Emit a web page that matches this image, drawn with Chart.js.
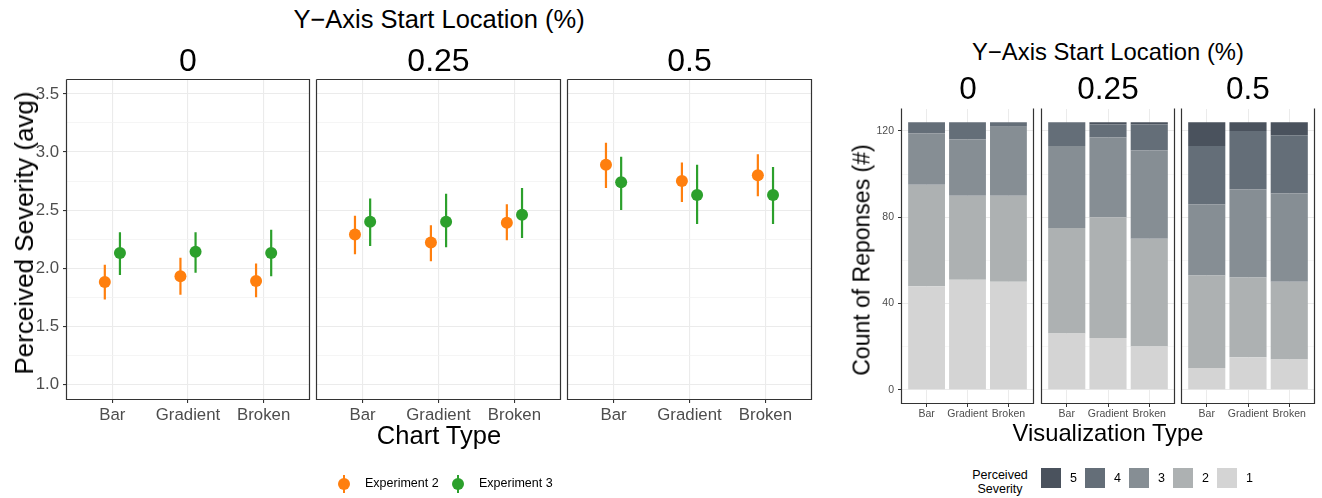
<!DOCTYPE html>
<html>
<head>
<meta charset="utf-8">
<script src="https://cdn.jsdelivr.net/npm/chart.js@4.4.1/dist/chart.umd.min.js"></script>
<style>
  body { margin: 0; background: #fff; width: 1322px; height: 498px; position: relative; overflow: hidden;
         font-family: "Liberation Sans", Arial, sans-serif; }
  canvas { position: absolute; }
  .t { position: absolute; white-space: nowrap; line-height: 1; color: #000; }
  .lg { position: absolute; font-size: 12.5px; line-height: 1; color: #000; white-space: nowrap; }
</style>
</head>
<body>
<script>
const chartTypes = ['Bar', 'Gradient', 'Broken'];
const startLocations = ['0', '0.25', '0.5'];

// perceived severity, one row per start location, one value per chart type
const exp2Mean = [[1.88, 1.93, 1.89], [2.29, 2.22, 2.39], [2.89, 2.75, 2.80]];
const exp2Low  = [[1.73, 1.77, 1.75], [2.12, 2.06, 2.24], [2.69, 2.57, 2.62]];
const exp2High = [[2.03, 2.09, 2.04], [2.45, 2.37, 2.55], [3.08, 2.91, 2.98]];
const exp3Mean = [[2.13, 2.14, 2.13], [2.40, 2.40, 2.46], [2.74, 2.63, 2.63]];
const exp3Low  = [[1.94, 1.96, 1.93], [2.19, 2.18, 2.26], [2.50, 2.38, 2.38]];
const exp3High = [[2.31, 2.31, 2.33], [2.60, 2.64, 2.69], [2.96, 2.89, 2.87]];

// response counts per severity level
const severityLevels = ['1', '2', '3', '4', '5'];
const sev1 = [[48, 51, 50], [26, 24, 20], [10, 15, 14]];
const sev2 = [[47, 39, 40], [49, 56, 50], [43, 37, 36]];
const sev3 = [[24, 26, 32], [38, 37, 41], [33, 41, 41]];
const sev4 = [[5, 8, 2], [11, 6, 12], [27, 27, 27]];
const sev5 = [[0, 0, 0], [0, 1, 1], [11, 4, 6]];

const yMajorLeft = [1.0, 1.5, 2.0, 2.5, 3.0, 3.5];
const yMinorLeft = [1.25, 1.75, 2.25, 2.75, 3.25];
const yMajorRight = [0, 40, 80, 120];
const yMinorRight = [20, 60, 100];

const orange = '#ff7f0e', green = '#2ca02c';
const sevColors = ['#d4d4d4', '#adb1b2', '#868e94', '#646e78', '#4a525d'];
const tickGrey = '#4d4d4d';

Chart.defaults.font.family = '"Liberation Sans", Arial, sans-serif';
Chart.defaults.animation = false;
Chart.defaults.events = [];

const panelBorder = {
  id: 'panelBorder',
  afterDraw(chart, args, opts) {
    const { ctx, chartArea: a } = chart;
    const l = Math.round(a.left) - 0.5, r = Math.round(a.right) + 0.5;
    const t = Math.round(a.top) - 0.5, b = Math.round(a.bottom) + 0.5;
    ctx.save();
    ctx.strokeStyle = '#333333';
    ctx.lineWidth = 1.2;
    ctx.beginPath();
    ctx.moveTo(l, t); ctx.lineTo(l, b); ctx.lineTo(r, b); ctx.lineTo(r, t);
    if (opts.top) ctx.lineTo(l, t);
    ctx.stroke();
    ctx.restore();
  }
};

function addText(txt, x, y, size, rot) {
  const d = document.createElement('div');
  d.className = 't';
  d.textContent = txt;
  d.style.left = x + 'px';
  d.style.top = y + 'px';
  d.style.fontSize = size + 'px';
  d.style.transform = 'translate(-50%, -50%)' + (rot ? ' rotate(' + rot + 'deg)' : '');
  document.body.appendChild(d);
}

function addCanvas(left, top, w, h) {
  const cv = document.createElement('canvas');
  cv.width = w; cv.height = h;
  cv.style.left = left + 'px'; cv.style.top = top + 'px';
  document.body.appendChild(cv);
  return cv;
}

function isMajor(ctx, majors) {
  return ctx.tick && majors.includes(ctx.tick.value);
}

// fixed axis size, no extra label padding
function fixSize(s, key, v) {
  s[key] = v;
  s.paddingTop = 0; s.paddingBottom = 0; s.paddingLeft = 0; s.paddingRight = 0;
}

// ---- left: mean severity with intervals ----
function leftPanel(p, left, width, showY) {
  const cv = addCanvas(left, 70, width, 360);
  const series = [
    [exp2Mean, exp2Low, exp2High, orange, -0.1],
    [exp3Mean, exp3Low, exp3High, green, 0.1]
  ];
  const datasets = [];
  series.forEach(([m, lo, hi, col, dx]) => {
    const bars = [];
    chartTypes.forEach((c, i) => {
      bars.push({ x: i + 1 + dx, y: lo[p][i] }, { x: i + 1 + dx, y: hi[p][i] }, { x: i + 1 + dx, y: null });
    });
    datasets.push({ data: bars, borderColor: col, borderWidth: 2.2, pointRadius: 0, spanGaps: false, order: 1 });
    datasets.push({
      data: chartTypes.map((c, i) => ({ x: i + 1 + dx, y: m[p][i] })),
      showLine: false, pointRadius: 6, pointBackgroundColor: col, pointBorderWidth: 0, order: 0
    });
  });
  new Chart(cv, {
    type: 'line',
    data: { datasets },
    options: {
      responsive: false,
      layout: { padding: { top: 10, right: 3, left: 0, bottom: 0 }, autoPadding: false },
      plugins: { legend: { display: false }, tooltip: { enabled: false }, panelBorder: { top: true } },
      scales: {
        x: {
          type: 'linear', min: 0.4, max: 3.6,
          afterBuildTicks: s => { s.ticks = chartTypes.map((c, i) => ({ value: i + 1 })); },
          afterFit: s => fixSize(s, 'height', 31),
          ticks: { callback: (v, i) => chartTypes[i], color: tickGrey, font: { size: 16.8 }, padding: 2, maxRotation: 0, autoSkip: false },
          grid: { color: '#ebebeb', lineWidth: 1.1, tickColor: '#333', tickLength: 4 },
          border: { display: false }
        },
        y: {
          min: 0.873, max: 3.62,
          afterBuildTicks: s => { s.ticks = yMajorLeft.concat(yMinorLeft).sort((a, b) => a - b).map(v => ({ value: v })); },
          afterFit: s => fixSize(s, 'width', showY ? 37 : 3),
          ticks: { display: showY, callback: v => yMajorLeft.includes(v) ? v.toFixed(1) : '', color: tickGrey, font: { size: 16.8 }, padding: 4 },
          grid: {
            color: ctx => isMajor(ctx, yMajorLeft) ? '#ebebeb' : '#f2f2f2',
            lineWidth: ctx => isMajor(ctx, yMajorLeft) ? 1.1 : 0.8,
            tickColor: ctx => isMajor(ctx, yMajorLeft) ? '#333' : 'rgba(0,0,0,0)',
            tickLength: 4, drawTicks: showY
          },
          border: { display: false }
        }
      }
    },
    plugins: [panelBorder]
  });
}

// ---- right: stacked counts ----
function rightPanel(p, left, width, showY) {
  const cv = addCanvas(left, 100, width, 325);
  const levels = [sev1, sev2, sev3, sev4, sev5];
  const datasets = levels.map((lv, k) => ({
    label: severityLevels[k],
    data: chartTypes.map((c, i) => ({ x: i + 1, y: lv[p][i] })),
    backgroundColor: sevColors[k], borderWidth: 0,
    barPercentage: 0.9, categoryPercentage: 1.0
  }));
  new Chart(cv, {
    type: 'bar',
    data: { datasets },
    options: {
      responsive: false,
      layout: { padding: { top: 9, right: 3, left: 0, bottom: 0 }, autoPadding: false },
      plugins: { legend: { display: false }, tooltip: { enabled: false }, panelBorder: { top: false } },
      scales: {
        x: {
          type: 'linear', min: 0.4, max: 3.6, stacked: true, offset: false,
          afterBuildTicks: s => { s.ticks = chartTypes.map((c, i) => ({ value: i + 1 })); },
          afterFit: s => fixSize(s, 'height', 22),
          ticks: { callback: (v, i) => chartTypes[i], color: tickGrey, font: { size: 10.5 }, padding: 1, maxRotation: 0, autoSkip: false },
          grid: { color: '#ebebeb', lineWidth: 1, tickColor: '#333', tickLength: 4, offset: false },
          border: { display: false }
        },
        y: {
          min: -6.2, max: 130.2, stacked: true,
          afterBuildTicks: s => { s.ticks = yMajorRight.concat(yMinorRight).sort((a, b) => a - b).map(v => ({ value: v })); },
          afterFit: s => fixSize(s, 'width', showY ? 32 : 3),
          ticks: { display: showY, callback: v => yMajorRight.includes(v) ? String(v) : '', color: tickGrey, font: { size: 10.5 }, padding: 4 },
          grid: {
            color: ctx => isMajor(ctx, yMajorRight) ? '#ebebeb' : '#f3f3f3',
            lineWidth: ctx => isMajor(ctx, yMajorRight) ? 1 : 0.7,
            tickColor: ctx => isMajor(ctx, yMajorRight) ? '#333' : 'rgba(0,0,0,0)',
            tickLength: 4, drawTicks: showY
          },
          border: { display: false }
        }
      }
    },
    plugins: [panelBorder]
  });
}

leftPanel(0, 30, 282, true);
leftPanel(1, 314, 249, false);
leftPanel(2, 565, 249, false);
rightPanel(0, 870, 166, true);
rightPanel(1, 1039, 138, false);
rightPanel(2, 1179, 138, false);

// titles and strips
addText('Y\u2212Axis Start Location (%)', 439, 20, 25.5);
[188, 438.5, 689.5].forEach((x, i) => addText(startLocations[i], x, 60, 32));
addText('Perceived Severity (avg)', 24, 233, 26, -90);
addText('Chart Type', 439, 436, 25.5);

addText('Y\u2212Axis Start Location (%)', 1108, 52, 23.8);
[968, 1108, 1248].forEach((x, i) => addText(startLocations[i], x, 89, 31.5));
addText('Count of Reponses (#)', 862, 260, 23, -90);
addText('Visualization Type', 1108, 433, 23.8);

// left legend
[['Experiment 2', orange, 344, 365], ['Experiment 3', green, 458, 479]].forEach(([name, col, mx, tx]) => {
  const line = document.createElement('div');
  line.style.cssText = `position:absolute;left:${mx - 1}px;top:${484 - 9}px;width:2px;height:18px;background:${col}`;
  const dot = document.createElement('div');
  dot.style.cssText = `position:absolute;left:${mx - 6}px;top:${484 - 6}px;width:12px;height:12px;border-radius:6px;background:${col}`;
  const lab = document.createElement('div');
  lab.className = 'lg';
  lab.textContent = name;
  lab.style.left = tx + 'px';
  lab.style.top = (484 - 7) + 'px';
  document.body.append(line, dot, lab);
});

// right legend
const sevTitle = document.createElement('div');
sevTitle.className = 'lg';
sevTitle.style.cssText = 'left:962px;top:469px;width:76px;text-align:center;line-height:13.5px;';
sevTitle.innerHTML = 'Perceived<br>Severity';
document.body.appendChild(sevTitle);
[4, 3, 2, 1, 0].forEach((k, j) => {
  const x = 1041 + j * 44;
  const sq = document.createElement('div');
  sq.style.cssText = `position:absolute;left:${x}px;top:468px;width:20px;height:20px;background:${sevColors[k]}`;
  const lab = document.createElement('div');
  lab.className = 'lg';
  lab.textContent = severityLevels[k];
  lab.style.left = (x + 29) + 'px';
  lab.style.top = '472px';
  document.body.append(sq, lab);
});
</script>
</body>
</html>
